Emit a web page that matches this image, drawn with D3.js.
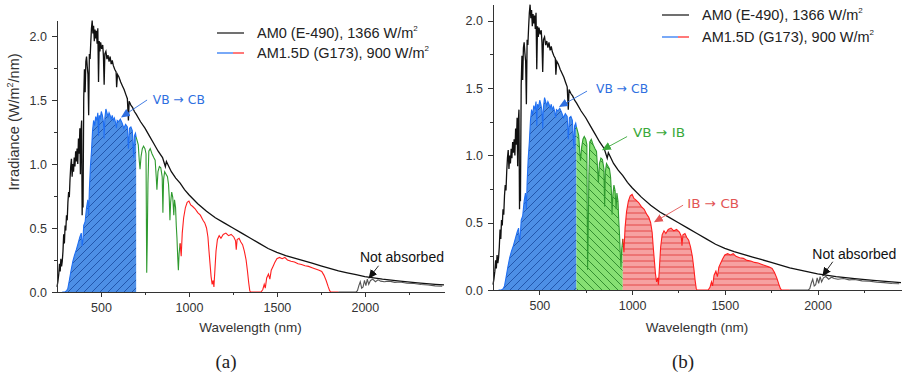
<!DOCTYPE html>
<html lang="en">
<head>
<meta charset="UTF-8">
<title>AM0 / AM1.5D absorption bands</title>
<script src="https://cdn.jsdelivr.net/npm/d3@7"></script>
<style>
body { margin: 0; background: #fff; }
svg { display: block; font-family: "Liberation Sans", Arial, sans-serif; }
.axis path, .axis line { stroke: #333; shape-rendering: crispEdges; }
.axis text { fill: #333; font-size: 12.5px; font-family: "Liberation Sans", Arial, sans-serif; }
.band-label { font-family: "DejaVu Sans", sans-serif; font-stretch: condensed; font-size: 13px; }
</style>
</head>
<body>
<svg id="fig" width="902" height="379"></svg>
<script>
// AM0 (E-490) spectrum
const am0Wavelength = [250,255,260,264,268,272,276,280,284,288,292,296,300,304,308,312,316,320,324,328,332,336,340,344,348,352,356,360,364,368,372,376,380,383,386,390,393,396,398,402,406,410,414,418,422,426,430,434,438,442,446,450,454,458,462,466,470,474,478,482,486,490,494,498,504,510,514,518,522,528,534,540,546,552,558,564,570,578,586,589,594,602,612,622,632,642,650,656,660,670,680,690,700,725,750,775,800,825,850,866,872,900,925,950,975,1000,1050,1100,1150,1200,1250,1300,1350,1400,1450,1500,1550,1600,1650,1700,1750,1800,1850,1900,1950,2000,2100,2200,2300,2400,2450];
const am0Irradiance = [0.04,0.08,0.14,0.22,0.16,0.26,0.20,0.24,0.32,0.45,0.38,0.52,0.48,0.60,0.56,0.70,0.78,0.74,0.88,0.98,1.04,0.90,1.00,0.94,1.05,0.98,1.10,1.02,1.12,1.00,1.20,1.08,1.28,0.92,1.24,1.34,0.60,0.90,0.66,1.52,1.74,1.56,1.80,1.84,1.76,1.70,1.38,1.86,1.82,1.95,2.06,2.12,2.02,2.08,1.96,2.05,1.98,2.04,1.94,2.06,1.64,1.96,1.88,1.95,1.90,1.93,1.84,1.62,1.86,1.88,1.82,1.85,1.80,1.84,1.78,1.81,1.77,1.74,1.72,1.60,1.70,1.68,1.64,1.61,1.58,1.54,1.51,1.34,1.49,1.46,1.44,1.41,1.39,1.33,1.28,1.22,1.16,1.10,1.05,0.98,1.02,0.94,0.89,0.85,0.80,0.76,0.69,0.63,0.58,0.54,0.50,0.46,0.42,0.38,0.34,0.31,0.285,0.265,0.245,0.225,0.205,0.185,0.165,0.15,0.135,0.12,0.10,0.085,0.072,0.06,0.055];

// AM1.5D (G173) spectrum
const am15Wavelength = [280,295,305,312,320,330,340,350,360,370,380,388,393,397,402,410,418,425,430,434,440,446,452,458,464,470,476,482,486,490,496,502,508,514,518,522,528,534,540,546,552,558,564,570,576,582,588,592,600,610,620,630,640,650,656,662,670,678,686,690,696,700,706,712,718,722,728,735,742,750,756,760,763,767,772,780,790,800,808,814,818,824,832,840,848,852,856,862,870,878,884,888,892,896,902,908,914,918,924,928,932,936,940,944,950,956,962,970,980,990,1000,1010,1020,1035,1050,1065,1080,1090,1100,1108,1114,1120,1126,1132,1138,1142,1148,1154,1162,1172,1182,1195,1210,1225,1240,1255,1265,1269,1274,1285,1295,1305,1315,1325,1333,1340,1346,1350,1410,1420,1428,1434,1442,1452,1460,1468,1478,1488,1500,1515,1530,1545,1560,1580,1600,1620,1640,1660,1680,1700,1720,1740,1755,1768,1780,1792,1800,1806,1850,1950,1958,1966,1974,1982,1990,1998,2006,2014,2022,2032,2045,2060,2075,2090,2110,2140,2170,2200,2240,2280,2320,2360,2400,2440];
const am15Irradiance = [0,0,0.01,0.03,0.09,0.17,0.24,0.29,0.33,0.38,0.43,0.46,0.36,0.40,0.52,0.55,0.66,0.72,0.60,0.80,0.98,1.10,1.26,1.34,1.30,1.37,1.34,1.40,1.22,1.38,1.36,1.41,1.38,1.33,1.20,1.36,1.43,1.40,1.37,1.40,1.38,1.35,1.38,1.34,1.36,1.33,1.28,1.34,1.33,1.35,1.32,1.28,1.31,1.29,1.12,1.28,1.29,1.26,1.05,1.22,1.24,1.21,1.18,1.15,1.02,0.96,1.06,1.12,1.14,1.12,1.08,0.15,0.38,0.85,1.10,1.12,1.08,1.05,1.03,0.90,0.80,0.94,0.98,0.97,0.90,0.62,0.88,0.94,0.92,0.90,0.84,0.74,0.56,0.70,0.78,0.74,0.60,0.72,0.66,0.52,0.42,0.28,0.17,0.30,0.38,0.28,0.46,0.58,0.66,0.70,0.71,0.68,0.67,0.65,0.62,0.60,0.56,0.54,0.50,0.43,0.32,0.22,0.12,0.06,0.09,0.04,0.18,0.32,0.41,0.44,0.42,0.45,0.46,0.44,0.45,0.43,0.40,0.33,0.41,0.42,0.39,0.37,0.32,0.25,0.16,0.07,0.01,0,0,0.02,0.06,0.03,0.11,0.14,0.10,0.17,0.20,0.23,0.26,0.27,0.26,0.27,0.25,0.24,0.235,0.22,0.215,0.205,0.20,0.19,0.18,0.17,0.16,0.13,0.09,0.04,0.01,0,0,0,0.01,0.05,0.08,0.03,0.04,0.09,0.05,0.10,0.06,0.09,0.10,0.08,0.095,0.085,0.08,0.085,0.075,0.078,0.068,0.066,0.058,0.055,0.048,0.046];

// spectral regions (nm) of the AM1.5D curve
const bandNames = ["VB → CB", "VB → IB", "IB → CB", "Not absorbed"];
const bandStart = [280, 700, 950, 1850];
const bandEnd = [700, 950, 1850, 2450];

const xTickValues = [500, 1000, 1500, 2000];
const xMinorTicks = [750, 1250, 1750, 2250];
const yTickValues = [0, 0.5, 1.0, 1.5, 2.0];
const yMinorTicks = [0.25, 0.75, 1.25, 1.75];
const legendLabels = ["AM0 (E-490), 1366 W/m", "AM1.5D (G173), 900 W/m"];

const am0 = am0Wavelength.map((w, i) => ({ w: w, v: am0Irradiance[i] }));
const am15 = am15Wavelength.map((w, i) => ({ w: w, v: am15Irradiance[i] }));

const bandStyle = [
  { line: "#1f6ff2", fill: "#4d8fe6", hatch: "#1d4fa6", kind: "up" },
  { line: "#2f9a2f", fill: "#86e073", hatch: "#2a862a", kind: "down" },
  { line: "#ff1f1f", fill: "#f6a1a1", hatch: "#e23c3c", kind: "flat" },
  { line: "#555555", fill: "none", hatch: "none", kind: "none" }
];

const svg = d3.select("#fig");
const defs = svg.append("defs");

// panel layouts
const panels = [
  { id: "a", x: [57, 444], y: [292, 20], filled: [0], legendX: 217, legendY: [33, 53],
    notes: [
      { band: 0, tx: 795, ty: 1.465, from: [762, 1.5], to: [622, 1.372] },
      { band: 3, tx: 1972, ty: 0.233, from: [2078, 0.205], to: [2027, 0.115] }
    ],
    caption: "(a)", captionX: 226, yLabel: true },
  { id: "b", x: [493, 901], y: [290, 4], filled: [0, 1, 2], legendX: 662, legendY: [15, 37],
    notes: [
      { band: 0, tx: 806, ty: 1.465, from: [757, 1.478], to: [614, 1.366] },
      { band: 1, tx: 1005, ty: 1.134, from: [973, 1.14], to: [846, 1.045] },
      { band: 2, tx: 1297, ty: 0.612, from: [1275, 0.63], to: [1126, 0.51] },
      { band: 3, tx: 1972, ty: 0.233, from: [2082, 0.21], to: [2031, 0.112] }
    ],
    caption: "(b)", captionX: 683, yLabel: false }
];

// hatch patterns
bandStyle.forEach((s, i) => {
  if (s.kind === "none") return;
  const size = s.kind === "flat" ? 6 : 8;
  const p = defs.append("pattern")
    .attr("id", "hatch" + i)
    .attr("patternUnits", "userSpaceOnUse")
    .attr("width", size).attr("height", size);
  p.append("rect").attr("width", size).attr("height", size).attr("fill", s.fill);
  let d;
  if (s.kind === "up") d = "M-1,1 l2,-2 M0,8 l8,-8 M7,9 l2,-2";
  else if (s.kind === "down") d = "M-1,7 l2,2 M0,0 l8,8 M7,-1 l2,2";
  else d = "M0,3 H6";
  p.append("path").attr("d", d).attr("stroke", s.hatch).attr("stroke-width", 0.9);
});

// arrow heads
const noteColors = ["#2f6fe0", "#3aa83a", "#e25555", "#111111"];
noteColors.forEach((c, i) => {
  defs.append("marker")
    .attr("id", "tip" + i)
    .attr("viewBox", "0 0 10 10")
    .attr("refX", 8).attr("refY", 5)
    .attr("markerUnits", "userSpaceOnUse")
    .attr("markerWidth", 9).attr("markerHeight", 9)
    .attr("orient", "auto")
    .append("path").attr("d", "M0,0.5 L10,5 L0,9.5Z").attr("fill", c);
});

function drawPanel(cfg) {
  const g = svg.append("g").attr("class", "panel-" + cfg.id);
  const x = d3.scaleLinear().domain([250, 2450]).range(cfg.x);
  const y = d3.scaleLinear().domain([0, 2.125]).range(cfg.y);

  const line = d3.line().x(d => x(d.w)).y(d => y(d.v));
  const area = d3.area().x(d => x(d.w)).y0(y(0)).y1(d => y(d.v));

  const segs = bandStart.map((s, i) => am15.filter(d => d.w >= s && d.w <= bandEnd[i]));

  // hatched fills
  cfg.filled.forEach(i => {
    g.append("path").datum(segs[i])
      .attr("d", area)
      .attr("fill", "url(#hatch" + i + ")");
  });

  // AM0
  g.append("path").datum(am0)
    .attr("d", line)
    .attr("fill", "none")
    .attr("stroke", "#111")
    .attr("stroke-width", 1.3);

  // AM1.5D coloured by region
  segs.forEach((seg, i) => {
    g.append("path").datum(seg)
      .attr("d", line)
      .attr("fill", "none")
      .attr("stroke", bandStyle[i].line)
      .attr("stroke-width", 1.1);
  });

  // axes
  g.append("g").attr("class", "axis")
    .attr("transform", `translate(0,${y(0)})`)
    .call(d3.axisBottom(x).tickValues(xTickValues).tickFormat(d3.format("d")).tickSize(5).tickPadding(6).tickSizeOuter(0));
  g.append("g").attr("class", "axis")
    .attr("transform", `translate(0,${y(0)})`)
    .call(d3.axisBottom(x).tickValues(xMinorTicks).tickSize(3).tickFormat("").tickSizeOuter(0));
  g.append("g").attr("class", "axis")
    .attr("transform", `translate(${x(250)},0)`)
    .call(d3.axisLeft(y).tickValues(yTickValues).tickFormat(d3.format(".1f")).tickSize(5).tickPadding(5).tickSizeOuter(0));
  g.append("g").attr("class", "axis")
    .attr("transform", `translate(${x(250)},0)`)
    .call(d3.axisLeft(y).tickValues(yMinorTicks).tickSize(3).tickFormat("").tickSizeOuter(0));

  g.append("text")
    .attr("x", (cfg.x[0] + cfg.x[1]) / 2)
    .attr("y", 332)
    .attr("text-anchor", "middle")
    .attr("font-size", 13.5)
    .attr("fill", "#333")
    .text("Wavelength (nm)");

  if (cfg.yLabel) {
    const t = g.append("text")
      .attr("transform", "translate(19,122) rotate(-90)")
      .attr("text-anchor", "middle")
      .attr("font-size", 14.5)
      .attr("fill", "#333");
    t.append("tspan").text("Irradiance (W/m");
    t.append("tspan").attr("font-size", 9).attr("dy", -6).text("2");
    t.append("tspan").attr("dy", 6).text("/nm)");
  }

  // legend
  cfg.legendY.forEach((ly, i) => {
    if (i === 0) {
      g.append("line").attr("x1", cfg.legendX).attr("x2", cfg.legendX + 27)
        .attr("y1", ly).attr("y2", ly).attr("stroke", "#111").attr("stroke-width", 1.2);
    } else {
      g.append("line").attr("x1", cfg.legendX).attr("x2", cfg.legendX + 16)
        .attr("y1", ly).attr("y2", ly).attr("stroke", bandStyle[0].line).attr("stroke-width", 1.2);
      g.append("line").attr("x1", cfg.legendX + 16).attr("x2", cfg.legendX + 27)
        .attr("y1", ly).attr("y2", ly).attr("stroke", bandStyle[2].line).attr("stroke-width", 1.2);
    }
    const t = g.append("text")
      .attr("x", cfg.legendX + 40).attr("y", ly + 5)
      .attr("font-size", 14.5).attr("fill", "#222");
    t.append("tspan").text(legendLabels[i]);
    t.append("tspan").attr("font-size", 8).attr("dy", -7).text("2");
  });

  // annotations
  cfg.notes.forEach(n => {
    g.append("line")
      .attr("x1", x(n.from[0])).attr("y1", y(n.from[1]))
      .attr("x2", x(n.to[0])).attr("y2", y(n.to[1]))
      .attr("stroke", noteColors[n.band]).attr("stroke-width", 0.9)
      .attr("marker-end", "url(#tip" + n.band + ")");
    const txt = g.append("text")
      .attr("x", x(n.tx)).attr("y", y(n.ty))
      .attr("fill", noteColors[n.band])
      .text(bandNames[n.band]);
    if (n.band < 3) txt.attr("class", "band-label").attr("textLength", 52).attr("lengthAdjust", "spacingAndGlyphs");
    else txt.attr("font-size", 14);
  });

  svg.append("text")
    .attr("x", cfg.captionX).attr("y", 368)
    .attr("text-anchor", "middle")
    .attr("font-family", "'Liberation Serif', 'DejaVu Serif', serif")
    .attr("font-size", 19)
    .attr("fill", "#222")
    .text(cfg.caption);
}

panels.forEach(drawPanel);
</script>
</body>
</html>
